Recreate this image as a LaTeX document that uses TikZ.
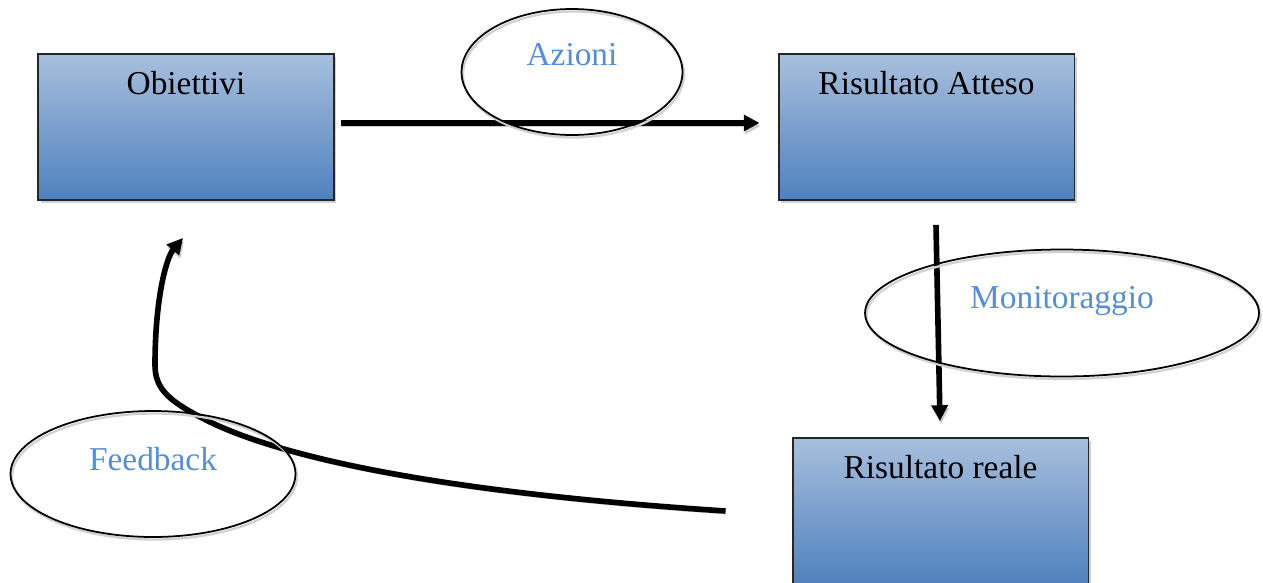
\documentclass[tikz,border=0pt]{standalone}
\usepackage{fontspec}
\setmainfont{Liberation Serif}
\usetikzlibrary{arrows.meta,shapes.geometric,shadows}
\definecolor{boxtop}{RGB}{167,191,222}
\definecolor{boxbottom}{RGB}{79,129,189}
\definecolor{tagblue}{RGB}{85,142,213}

\begin{document}
\begin{tikzpicture}[x=0.02cm,y=-0.02cm,
  box/.style={draw=black!85,line width=1.1pt,top color=boxtop,bottom color=boxbottom,
    minimum width=5.92cm,minimum height=2.92cm,inner sep=0pt,
    drop shadow={shadow xshift=0.05cm,shadow yshift=-0.06cm,fill=black!30,opacity=0.6}},
  boxtext/.style={font=\fontsize{19}{23}\selectfont,anchor=base,yshift=-0.82cm},
  ring/.style={ellipse,draw,line width=1pt,inner sep=0pt,
    preaction={draw=black!18,line width=1.3pt,transform canvas={shift={(0.03cm,-0.05cm)}}}},
  ringtext/.style={font=\fontsize{19}{23}\selectfont,text=tagblue,anchor=base,yshift=0.3cm},
  % thick connectors with a light shadow
  flow/.style={line width=3.2pt,-{Triangle[length=9pt,width=9pt]},
    preaction={draw=black!20,transform canvas={shift={(0.02cm,-0.06cm)}}}}]

\useasboundingbox (0,0) rectangle (1263,582);

\node[box,label={[boxtext]north:Obiettivi}] (obj) at (186,127) {};
\node[box,label={[boxtext]north:Risultato Atteso}] (atteso) at (926.5,127) {};
\node[box,label={[boxtext]north:Risultato reale}] (reale) at (940.5,511) {};

\draw[flow] ([xshift=0.12cm,yshift=0.08cm]obj.east) -- ([xshift=-0.36cm,yshift=0.08cm]atteso.west);
\draw[flow] ([xshift=0.19cm,yshift=-0.48cm]atteso.south) -- ([xshift=-0.01cm,yshift=0.32cm]reale.north);
\draw[flow] ([xshift=-1.32cm]reale.west) .. controls (480,495) and (300,465) .. (210,422)
  .. controls (170,402) and (155,390) .. (155,365)
  .. controls (155,300) and (166,258) .. ([xshift=-0.06cm,yshift=-0.74cm]obj.south);

\node[ring,minimum width=4.42cm,minimum height=2.52cm,label={[ringtext,yshift=0.04cm]center:Azioni}] (azioni) at (572,72) {};
\node[ring,minimum width=7.88cm,minimum height=2.54cm,label={[ringtext,yshift=-0.06cm]center:Monitoraggio}] (monit) at (1062,313) {};
\node[ring,minimum width=5.7cm,minimum height=2.52cm,label={[ringtext]center:Feedback}] (feed) at (153,474) {};
\end{tikzpicture}
\end{document}
